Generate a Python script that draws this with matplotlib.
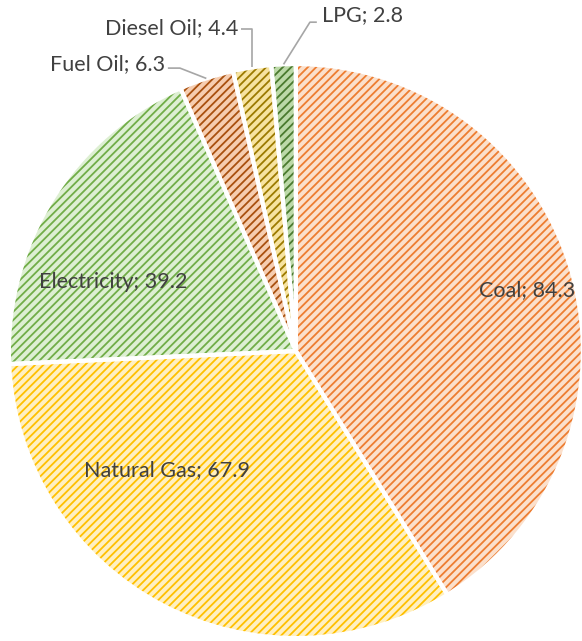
import numpy as np
import matplotlib.pyplot as plt

plt.rcParams['font.family'] = ['Lato', 'DejaVu Sans']
plt.rcParams['hatch.linewidth'] = 1.3

# energy use by source
sources = ['Coal', 'Natural Gas', 'Electricity', 'Fuel Oil', 'Diesel Oil', 'LPG']
values = [84.3, 67.9, 39.2, 6.3, 4.4, 2.8]

face_colors = ['#FBE0CC', '#FFF0C2', '#DDEFD2', '#F6CDB0', '#F7E3A0', '#BCD9A8']
hatch_colors = ['#ED7D31', '#FFC000', '#70AD47', '#A9500F', '#9C7A00', '#4A7A2E']

# label placement: (x, y, ha) in data units
label_pos = [(0.805, 0.213, 'center'), (-0.450, -0.415, 'center'),
             (-0.635, 0.240, 'center'), (-0.456, 1.000, 'right'),
             (-0.202, 1.125, 'right'), (0.091, 1.171, 'left')]
# elbow points for the leader lines of the outside labels
elbows = {3: [(-0.404, 0.986), (-0.446, 0.986)],
          4: [(None, 1.122), (-0.190, 1.122)],
          5: [(0.049, 1.146), (0.073, 1.146)]}

fig = plt.figure(figsize=(5.82, 6.41), dpi=100)
ax = fig.add_axes([0, 0, 1, 1])

wedges, _ = ax.pie(values, startangle=90, counterclock=False,
                   colors=face_colors, radius=1.0)
for w, hc in zip(wedges, hatch_colors):
    w.set_hatch('////')
    w.set_edgecolor(hc)
    w.set_linewidth(0)

# white separators between slices
ax.pie(values, startangle=90, counterclock=False, radius=1.0,
       wedgeprops=dict(fill=False, edgecolor='white', linewidth=3))

for i, (name, v) in enumerate(zip(sources, values)):
    x, y, ha = label_pos[i]
    ax.text(x, y, f'{name}; {v}', ha=ha, va='center',
            fontsize=15.5, color='#404040')
    if i in elbows:
        w = wedges[i]
        mid = np.deg2rad((w.theta1 + w.theta2) / 2)
        px, py = np.cos(mid) * 1.0, np.sin(mid) * 1.0
        (ex, ey), (tx, ty) = elbows[i]
        if ex is None:
            ex = px
        ax.plot([px, ex, tx], [py, ey, ty],
                color='#A6A6A6', lw=1.2, solid_capstyle='butt')

ax.set_xlim(-1.031, 0.997)
ax.set_ylim(-1.010, 1.223)
ax.set_aspect('equal')
ax.axis('off')

fig.savefig('out.png', dpi=100)
